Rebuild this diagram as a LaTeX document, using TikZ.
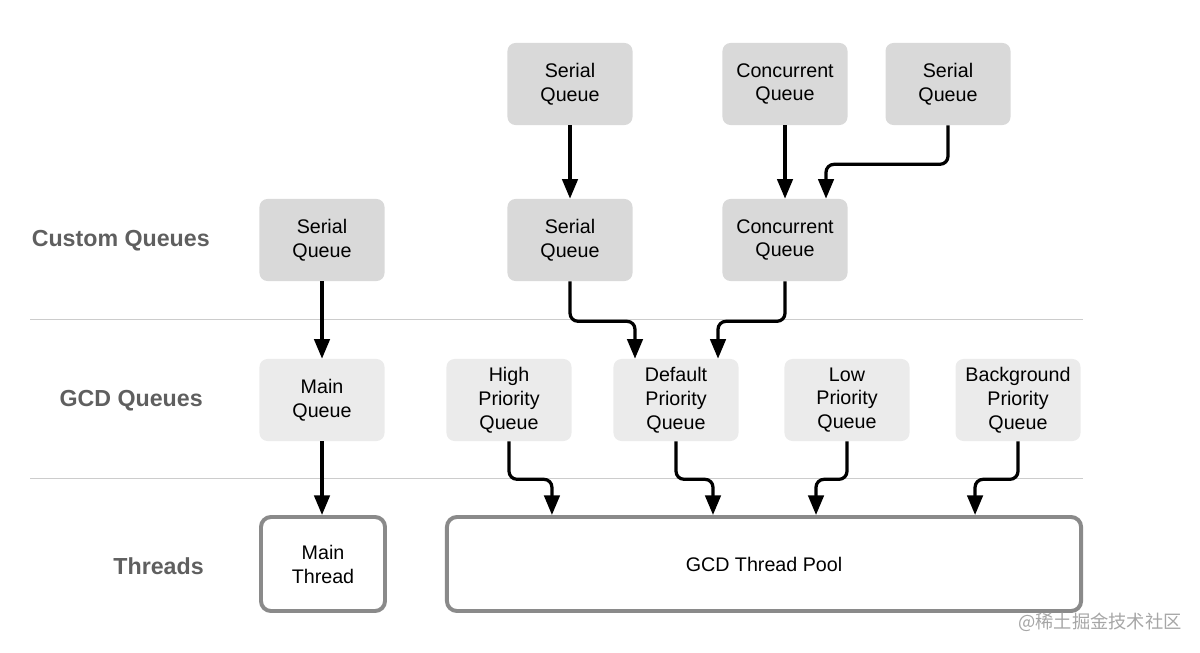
\documentclass[tikz,border=0pt]{standalone}
\usepackage{fontspec}
\setmainfont{Liberation Sans}
\newfontfamily\cjkfont{Noto Sans CJK SC}
\usetikzlibrary{arrows.meta}
\definecolor{customgray}{HTML}{D9D9D9}
\definecolor{gcdgray}{HTML}{EBEBEB}
\definecolor{poolgray}{HTML}{8A8A8A}
\definecolor{labelgray}{HTML}{5F5F5F}
\begin{document}
\begin{tikzpicture}[x=0.025cm,y=-0.025cm,
  custombox/.style={fill=customgray,rounded corners=0.2cm,minimum width=3.125cm,minimum height=2.05cm,align=center,inner sep=0pt,font=\fontsize{14}{17}\selectfont},
  gcdbox/.style={custombox,fill=gcdgray},
  threadbox/.style={draw=poolgray,line width=2.8pt,fill=white,rounded corners=0.25cm,minimum height=2.35cm,align=center,inner sep=0pt,font=\fontsize{14}{17}\selectfont},
  rowlabel/.style={anchor=east,inner sep=0pt,text=labelgray,font=\fontsize{16.5}{19}\selectfont\bfseries},
  flow/.style={line width=2.3pt,rounded corners=0.2cm,-{Triangle[width=11pt,length=14pt]}},
  sep/.style={draw=black!20,line width=0.6pt}]
\useasboundingbox (0,0) rectangle (1200,652);

\node (L1) at (210,241) [rowlabel] {Custom Queues};
\node (L2) at (203,401) [rowlabel] {GCD Queues};
\node (L3) at (204,566) [rowlabel] {Threads};

\draw[sep] (30,319) -- (1083,319);
\draw[sep] (30,478) -- (1083,478);

\node (SQtop) at (570,84) [custombox] {Serial\\Queue};
\node (CQtop) at (785,84) [custombox] {Concurrent\\Queue};
\node (SQright) at (948,84) [custombox] {Serial\\Queue};

\node (SQleft) at (322,240) [custombox] {Serial\\Queue};
\node (SQmid) at (570,240) [custombox] {Serial\\Queue};
\node (CQmid) at (785,240) [custombox] {Concurrent\\Queue};

\node (MQ) at (322,400) [gcdbox] {Main\\Queue};
\node (HPQ) at (509,400) [gcdbox] {High\\Priority\\Queue};
\node (DPQ) at (676,400) [gcdbox] {Default\\Priority\\Queue};
\node (LPQ) at (847,400) [gcdbox] {Low\\Priority\\Queue};
\node (BPQ) at (1018,400) [gcdbox] {Background\\Priority\\Queue};

\node (MT) at (323,564) [threadbox,minimum width=3.1cm] {Main\\Thread};
\node (Pool) at (764,564) [threadbox,minimum width=15.85cm] {GCD Thread Pool};

\draw[flow] (SQtop) -- (SQmid);
\draw[flow] (CQtop) -- (CQmid);
\draw[flow] (SQright.south) -- ++(0,39) -| ([xshift=1.025cm]CQmid.north);

\draw[flow] (SQmid.south) -- ++(0,40) -| ([xshift=-1.025cm]DPQ.north);
\draw[flow] (CQmid.south) -- ++(0,40) -| ([xshift=1.05cm]DPQ.north);
\draw[flow] (SQleft) -- (MQ);

\draw[flow] (MQ.south) -- (MQ.south |- MT.north);
\draw[flow] (HPQ.south) -- ++(0,38) -| ([xshift=-5.3cm]Pool.north);
\draw[flow] (DPQ.south) -- ++(0,38) -| ([xshift=-1.275cm]Pool.north);
\draw[flow] (LPQ.south) -- ++(0,38) -| ([xshift=1.3cm]Pool.north);
\draw[flow] (BPQ.south) -- ++(0,38) -| ([xshift=5.275cm]Pool.north);

\node (WM) at (1100,622) [text=black!35,font=\cjkfont\fontsize{13}{15}\selectfont] {@稀土掘金技术社区};

\end{tikzpicture}
\end{document}
